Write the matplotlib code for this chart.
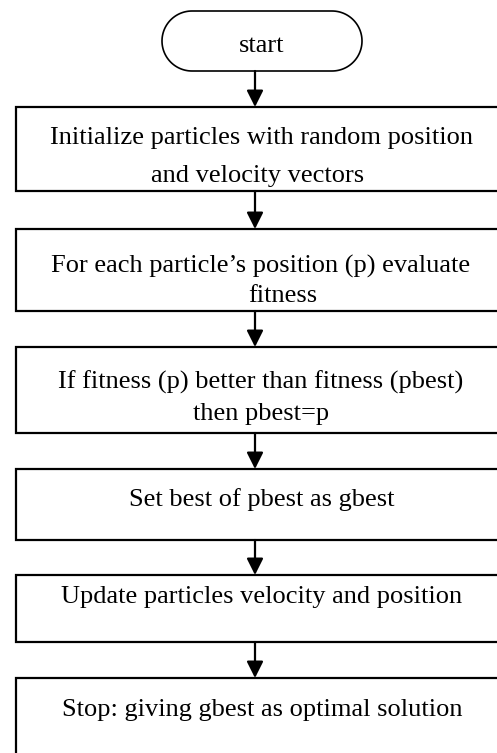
import matplotlib
matplotlib.use("Agg")
import numpy as np
import matplotlib.pyplot as plt
from matplotlib.patches import Rectangle, PathPatch
from matplotlib.path import Path

W, H = 497, 753
DPI = 100

# Flowchart content
start_label = "start"
step_lines = [
    ["Initialize particles with random position", "and velocity vectors"],
    ["For each particle\u2019s position (p) evaluate", "fitness"],
    ["If fitness (p) better than fitness (pbest)", "then pbest=p"],
    ["Set best of pbest as gbest"],
    ["Update particles velocity and position"],
    ["Stop: giving gbest as optimal solution"],
]

# Layout (pixel space)
box_left, box_right = 16, 510
box_tops = [107, 229, 347, 469, 575, 678]
box_bottoms = [191, 311, 433, 540, 642, 800]
line_y = [[138, 176], [266, 296], [382, 414], [500], [597], [710]]
line_x = [[261, 258], [261, 283], [261, 261], [262], [262], [262]]
term_x0, term_x1, term_y0, term_y1 = 162, 362, 11, 71
arrow_x = 255

fig = plt.figure(figsize=(W / DPI, H / DPI), dpi=DPI)
ax = fig.add_axes([0, 0, 1, 1])
ax.set_xlim(0, W)
ax.set_ylim(H, 0)
ax.axis("off")

FONT = "Liberation Serif"
FS = 19
LW = 1.6

# Terminal (start) as a stadium shape
r = (term_y1 - term_y0) / 2
cy = (term_y0 + term_y1) / 2
t1 = np.linspace(np.pi / 2, 3 * np.pi / 2, 60)   # left semicircle
t2 = np.linspace(-np.pi / 2, np.pi / 2, 60)      # right semicircle
lx = term_x0 + r + r * np.cos(t1)
ly = cy + r * np.sin(t1)
rx = term_x1 - r + r * np.cos(t2)
ry = cy + r * np.sin(t2)
verts = np.concatenate([np.column_stack([lx, ly]), np.column_stack([rx, ry]),
                        [[lx[0], ly[0]]]])
codes = [Path.MOVETO] + [Path.LINETO] * (len(verts) - 2) + [Path.CLOSEPOLY]
ax.add_patch(PathPatch(Path(verts, codes), fc="white", ec="black", lw=1.2))
ax.text((term_x0 + term_x1) / 2, cy + 5, start_label,
        ha="center", va="center", fontsize=FS, family=FONT)

# Boxes and text
for i, lines in enumerate(step_lines):
    ax.add_patch(Rectangle((box_left, box_tops[i]), box_right - box_left,
                           box_bottoms[i] - box_tops[i], fc="white", ec="black", lw=LW))
    for j, t in enumerate(lines):
        ax.text(line_x[i][j], line_y[i][j], t, ha="center", va="center",
                fontsize=FS, family=FONT)

# Arrows
starts = [term_y1] + box_bottoms[:-1]
for y0, y1 in zip(starts, box_tops):
    ax.annotate("", xy=(arrow_x, y1), xytext=(arrow_x, y0),
                arrowprops=dict(arrowstyle="-|>,head_length=1.0,head_width=0.5",
                                color="black", lw=LW, shrinkA=0, shrinkB=0))

fig.savefig("out.png", dpi=DPI)
